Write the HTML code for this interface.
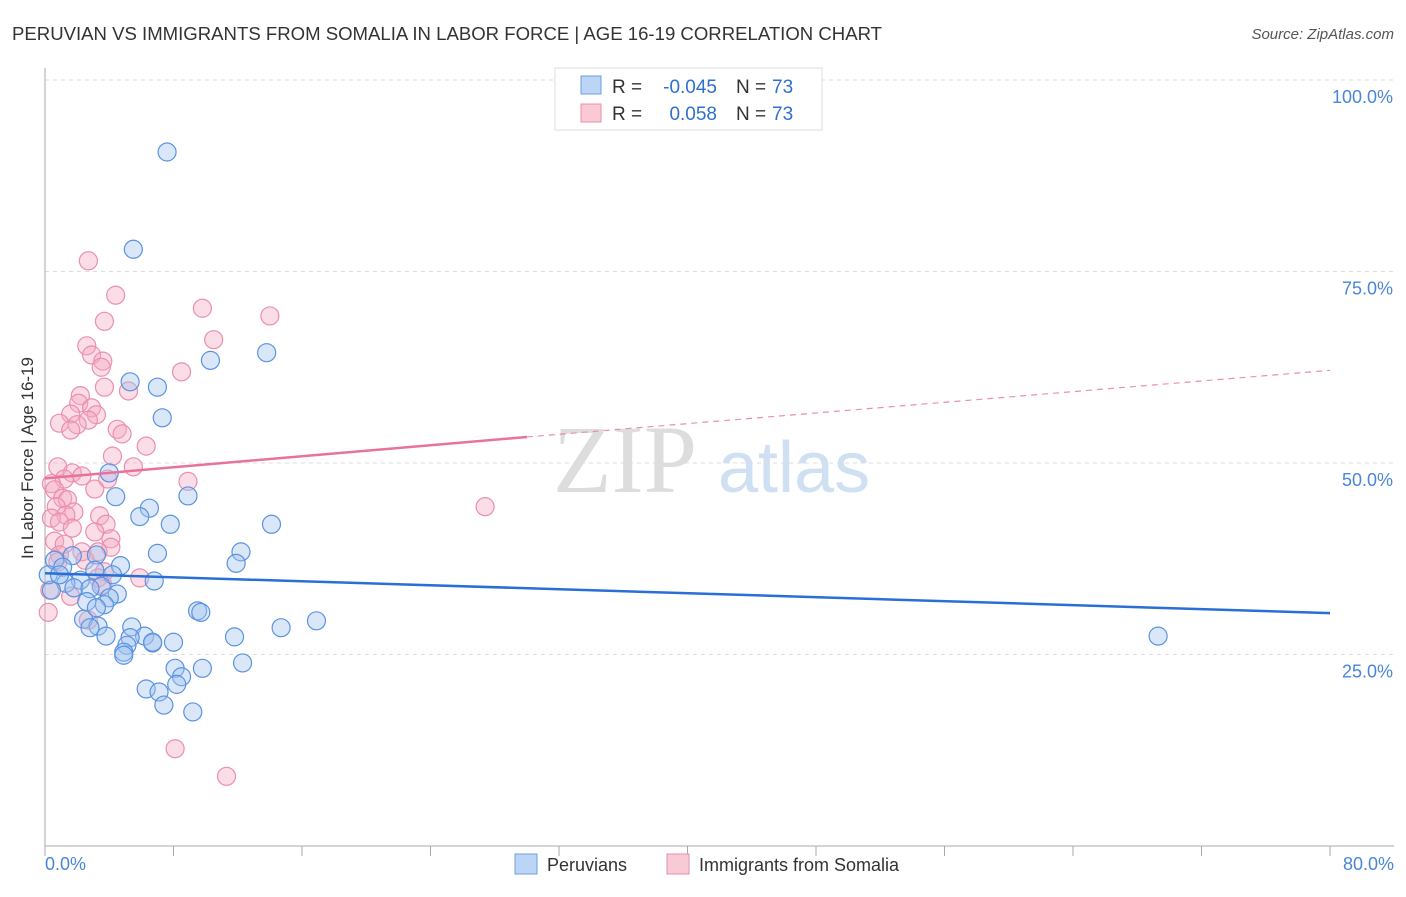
<!DOCTYPE html>
<html><head><meta charset="utf-8"><style>
body{margin:0;background:#fff;font-family:"Liberation Sans",sans-serif}
svg text{font-family:"Liberation Sans",sans-serif}
</style></head><body>
<svg id="chart" width="1406" height="892" xmlns="http://www.w3.org/2000/svg">
<text x="12" y="40" font-size="18" fill="#333" textLength="870" lengthAdjust="spacingAndGlyphs">PERUVIAN VS IMMIGRANTS FROM SOMALIA IN LABOR FORCE | AGE 16-19 CORRELATION CHART</text>
<text x="1394" y="39" font-size="15" fill="#555" font-style="italic" text-anchor="end">Source: ZipAtlas.com</text>
<text x="553" y="492" font-size="96" fill="#ddd" font-family="Liberation Serif" style="font-family:'Liberation Serif',serif">ZIP</text>
<text x="718" y="492" font-size="72" fill="#cfe0f3">atlas</text>
<g id="grid"></g>
<g id="axes"></g>
<g id="marks"></g>
<text transform="translate(33,458) rotate(-90)" font-size="17" fill="#333" text-anchor="middle">In Labor Force | Age 16-19</text>
<g>
<rect x="555" y="68" width="267" height="62" fill="#fff" stroke="#ddd"/>
<rect x="581" y="76" width="20" height="18" fill="#bcd4f5" stroke="#6a9fe0"/>
<rect x="581" y="104" width="20" height="18" fill="#f9c9d6" stroke="#eb8fab"/>
<text x="612" y="93" font-size="19" fill="#333">R =</text>
<text x="717" y="93" font-size="19" fill="#2f6fd0" text-anchor="end">-0.045</text>
<text x="736" y="93" font-size="19" fill="#333">N =</text>
<text x="772" y="93" font-size="19" fill="#2f6fd0">73</text>
<text x="612" y="120" font-size="19" fill="#333">R =</text>
<text x="717" y="120" font-size="19" fill="#2f6fd0" text-anchor="end">0.058</text>
<text x="736" y="120" font-size="19" fill="#333">N =</text>
<text x="772" y="120" font-size="19" fill="#2f6fd0">73</text>
</g>
<g>
<rect x="515" y="854" width="22" height="20" fill="#bcd4f5" stroke="#6a9fe0"/>
<text x="547" y="871" font-size="18" fill="#333">Peruvians</text>
<rect x="667" y="854" width="22" height="20" fill="#f9c9d6" stroke="#eb8fab"/>
<text x="699" y="871" font-size="18" fill="#333">Immigrants from Somalia</text>
</g>
</svg>
<script>
const yTicks=[25,50,75,100];
const yTickLabels=["25.0%","50.0%","75.0%","100.0%"];
const xTicks=[0,8,16,24,32,40,48,56,64,72,80];
const xEndLabels=["0.0%","80.0%"];
const peruX=[7.6,5.5,13.8,10.3,5.3,7.0,7.3,4.0,8.9,4.4,6.5,5.9,7.8,14.1,12.2,7.0,11.9,3.2,1.7,0.6,4.7,1.1,3.1,4.2,2.2,6.8,1.3,3.5,1.8,2.8,4.5,4.0,2.6,3.7,3.2,9.5,9.7,2.4,16.9,3.3,5.4,14.7,2.8,3.8,11.8,6.2,5.3,6.7,5.1,8.0,4.9,4.9,6.7,8.1,9.8,12.3,8.5,8.2,6.3,7.1,7.4,9.2,69.3,0.4,0.2,0.9];
const peruY=[90.6,77.9,64.4,63.4,60.6,59.9,55.9,48.7,45.7,45.6,44.1,43.0,42.0,42.0,38.4,38.2,36.9,38.0,37.9,37.3,36.6,36.4,36.0,35.4,34.7,34.6,34.3,33.9,33.7,33.6,32.9,32.4,31.9,31.5,31.1,30.7,30.5,29.6,29.4,28.7,28.6,28.5,28.5,27.4,27.3,27.4,27.2,26.5,26.2,26.6,25.3,24.9,26.6,23.2,23.2,23.9,22.1,21.1,20.5,20.1,18.4,17.5,27.4,33.4,35.4,35.4];
const somX=[2.7,4.4,9.8,14.0,3.7,10.5,2.6,2.9,3.6,3.5,8.5,3.7,5.2,2.2,2.1,2.9,1.6,3.2,2.7,0.9,2.0,1.6,4.5,4.8,6.3,4.2,5.5,0.8,1.7,2.3,1.2,3.9,8.9,0.4,0.6,3.1,1.1,1.4,0.7,1.8,1.3,3.4,0.4,0.9,3.8,1.7,3.1,4.1,0.6,1.2,4.1,2.3,3.3,0.9,2.5,3.7,5.9,3.3,3.6,0.3,2.7,27.4,8.1,11.3,0.8,1.6,0.2];
const somY=[76.4,71.9,70.2,69.2,68.5,66.1,65.3,64.1,63.3,62.5,61.9,59.9,59.4,58.8,57.8,57.2,56.4,56.3,55.6,55.2,55.0,54.3,54.4,53.8,52.2,50.9,49.5,49.5,48.7,48.3,47.9,47.9,47.6,47.3,46.5,46.6,45.4,45.2,44.3,43.6,43.2,43.1,42.8,42.3,42.0,41.5,41.0,40.1,39.8,39.4,39.0,38.4,38.4,38.0,37.3,35.8,35.0,35.0,34.1,33.4,29.5,44.3,12.7,9.1,37.1,32.6,30.5];
const peruTrend=[35.6,30.4];
const somTrend=[48.0,53.4,62.1];
const X=v=>45+v*(1285/80), Y=v=>846-v*7.66;
const NS="http://www.w3.org/2000/svg";
function mk(tag,parent,attrs){const e=document.createElementNS(NS,tag);for(const k in attrs)e.setAttribute(k,attrs[k]);parent.appendChild(e);return e;}
const grid=document.getElementById('grid'),axes=document.getElementById('axes'),marks=document.getElementById('marks');
yTicks.forEach((t,i)=>{
 const l=mk('line',grid,{x1:45,x2:1394,y1:Y(t),y2:Y(t),stroke:'#ddd','stroke-dasharray':'4,4'});
 
 
 const tx=mk('text',axes,{x:1393,y:Y(t)+23,'font-size':18,fill:'#4a86d8','text-anchor':'end'});
 tx.textContent=yTickLabels[i];
 
 
});
const ax=mk('line',axes,{x1:45,x2:45,y1:68,y2:846,stroke:'#aaa'});


const bx=mk('line',axes,{x1:45,x2:1394,y1:846,y2:846,stroke:'#aaa'});


xTicks.forEach(t=>{
 const l=mk('line',axes,{x1:X(t),x2:X(t),y1:846,y2:856,stroke:'#aaa'});
 
 
});
[[0,'start',45],[80,'end',1394]].forEach((d,i)=>{
 const tx=mk('text',axes,{x:d[2],y:870,'font-size':18,fill:'#4a86d8','text-anchor':d[1]});
 tx.textContent=xEndLabels[i];
 
 
});
somX.forEach((x,i)=>{
 const c=mk('circle',marks,{cx:X(x),cy:Y(somY[i]),r:9,fill:'rgba(246,170,195,0.4)',stroke:'#eb8fab','stroke-width':1.2});
 
 
});
peruX.forEach((x,i)=>{
 const c=mk('circle',marks,{cx:X(x),cy:Y(peruY[i]),r:9,fill:'rgba(160,195,240,0.4)',stroke:'#5b93e0','stroke-width':1.2});
 
 
});
const pt=mk('line',marks,{x1:X(0),y1:Y(peruTrend[0]),x2:X(80),y2:Y(peruTrend[1]),stroke:'#2a6fd6','stroke-width':2.5});


const st=mk('line',marks,{x1:X(0),y1:Y(somTrend[0]),x2:X(30),y2:Y(somTrend[1]),stroke:'#e8729a','stroke-width':2.5});


const sd=mk('line',marks,{x1:X(30),y1:Y(somTrend[1]),x2:X(80),y2:Y(somTrend[2]),stroke:'#eb8fab','stroke-width':1.2,'stroke-dasharray':'6,5'});


</script>
</body></html>
